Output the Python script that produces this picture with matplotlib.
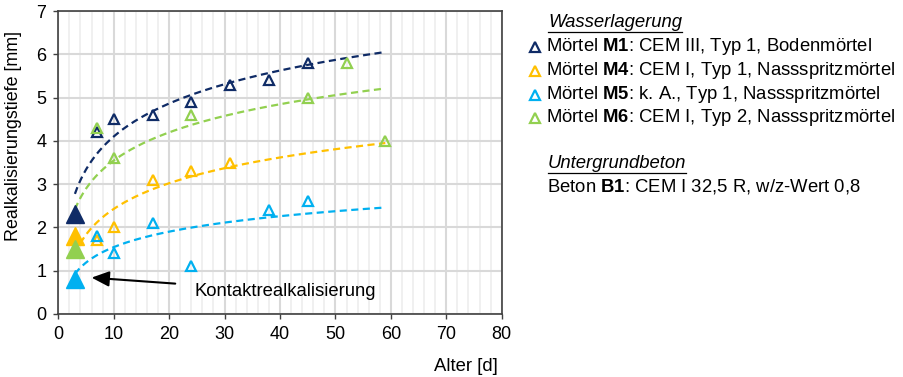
import numpy as np
import matplotlib
matplotlib.use("Agg")
import matplotlib.pyplot as plt
from matplotlib.lines import Line2D

FS = 13.3
plt.rcParams["font.family"] = ["Liberation Sans", "DejaVu Sans"]
plt.rcParams["mathtext.fontset"] = "custom"
plt.rcParams["mathtext.rm"] = "Liberation Sans"
plt.rcParams["mathtext.bf"] = "Liberation Sans:bold"
plt.rcParams["font.size"] = FS

# Realkalisierungstiefe [mm] über Alter [d]
m1_age = [3, 7, 10, 17, 24, 31, 38, 45]
m1_depth = [2.3, 4.2, 4.5, 4.6, 4.9, 5.3, 5.4, 5.8]

m4_age = [3, 7, 10, 17, 24, 31]
m4_depth = [1.8, 1.7, 2.0, 3.1, 3.3, 3.5]

m5_age = [3, 7, 10, 17, 24, 38, 45]
m5_depth = [0.8, 1.8, 1.4, 2.1, 1.1, 2.4, 2.6]

m6_age = [3, 7, 10, 24, 45, 52, 59]
m6_depth = [1.5, 4.3, 3.6, 4.6, 5.0, 5.8, 4.0]

series_names = ["M1", "M4", "M5", "M6"]
series_desc = [": CEM III, Typ 1, Bodenmörtel",
               ": CEM I, Typ 1, Nassspritzmörtel",
               ": k. A., Typ 1, Nassspritzmörtel",
               ": CEM I, Typ 2, Nassspritzmörtel"]
colors = ["#0F2B66", "#FFC000", "#00B0F0", "#92D050"]
trend_range = (3, 59)

series = [(m1_age, m1_depth), (m4_age, m4_depth),
          (m5_age, m5_depth), (m6_age, m6_depth)]

fig = plt.figure(figsize=(9.04, 3.77), dpi=100)
W, H = 904, 377
left, right, top, bottom = 58.3, 501.7, 11, 314
ax = fig.add_axes([left / W, 1 - bottom / H, (right - left) / W, (bottom - top) / H])

ax.set_xlim(0, 80)
ax.set_ylim(0, 7)
ax.set_xticks(np.arange(0, 81, 10))
ax.set_xticks(np.arange(0, 81, 2), minor=True)
ax.set_yticks(np.arange(0, 8, 1))
ax.grid(True, which="minor", axis="x", color="#EFEFEF", lw=1.3, zorder=0)
ax.grid(True, which="major", axis="both", color="#D9D9D9", lw=1.5, zorder=0)
ax.set_axisbelow(True)
ax.tick_params(which="major", direction="out", length=3.6, width=1.0,
               color="#404040", labelsize=13)
ax.tick_params(axis="y", pad=5)
ax.tick_params(axis="x", pad=5)
ax.tick_params(which="minor", length=0)
for s in ax.spines.values():
    s.set_color("#404040")
    s.set_linewidth(1.2)

# logarithmic trend lines
xfit = np.linspace(trend_range[0], trend_range[1], 300)
for (age, depth), c in zip(series, colors):
    a, b = np.polyfit(np.log(age), depth, 1)
    ax.plot(xfit, a * np.log(xfit) + b, color=c, lw=1.6,
            linestyle=(0, (3.2, 2.0)), zorder=2)

# measured values: first age filled (contact realkalisation), rest hollow
for (age, depth), c in zip(series, colors):
    ax.plot(age[1:], depth[1:], linestyle="none", marker="^", ms=7.5,
            mfc="none", mec=c, mew=1.6, zorder=3)
for (age, depth), c in zip(series, colors):
    ax.plot(age[:1], depth[:1], linestyle="none", marker="^", ms=13,
            mfc=c, mec=c, zorder=4)

ax.annotate("Kontaktrealkalisierung", xy=(6.0, 0.84), xytext=(24.6, 0.52),
            fontsize=FS, va="center", ha="left",
            arrowprops=dict(arrowstyle="-|>,head_length=0.8,head_width=0.35",
                            color="black", lw=1.5, shrinkA=12, shrinkB=0))


def fx(px):
    return px / W


def fy(py):
    return 1 - py / H


fig.text(fx(14), fy(136), "Realkalisierungstiefe [mm]", fontsize=12.9,
         rotation=90, ha="center", va="center")
ax.set_xlabel("Alter [d]", fontsize=FS, ha="right", va="center")
ax.xaxis.set_label_coords(0.992, -0.173)


def heading(txt, px, py):
    t = fig.text(fx(px), fy(py), txt, fontsize=FS, style="italic",
                 ha="left", va="center")
    fig.canvas.draw()
    bb = t.get_window_extent()
    yl = bb.y0 - 0.5
    fig.add_artist(Line2D([bb.x0 / W, bb.x1 / W], [yl / H, yl / H],
                          color="black", lw=0.9))


heading("Wasserlagerung", 548, 22.5)
rows = [46.5, 70.5, 94.5, 117.5]
for name, desc, c, py in zip(series_names, series_desc, colors, rows):
    fig.add_artist(Line2D([fx(535)], [fy(py)], marker="^", ms=7,
                          mfc="none", mec=c, mew=1.6, linestyle="none"))
    fig.text(fx(546.5), fy(py), "Mörtel $\\mathbf{" + name + "}$" + desc,
             fontsize=FS, ha="left", va="center")

heading("Untergrundbeton", 548, 163.5)
fig.text(fx(547), fy(186.5), "Beton $\\mathbf{B1}$: CEM I 32,5 R, w/z-Wert 0,8",
         fontsize=FS, ha="left", va="center")

fig.savefig("out.png", dpi=100)
